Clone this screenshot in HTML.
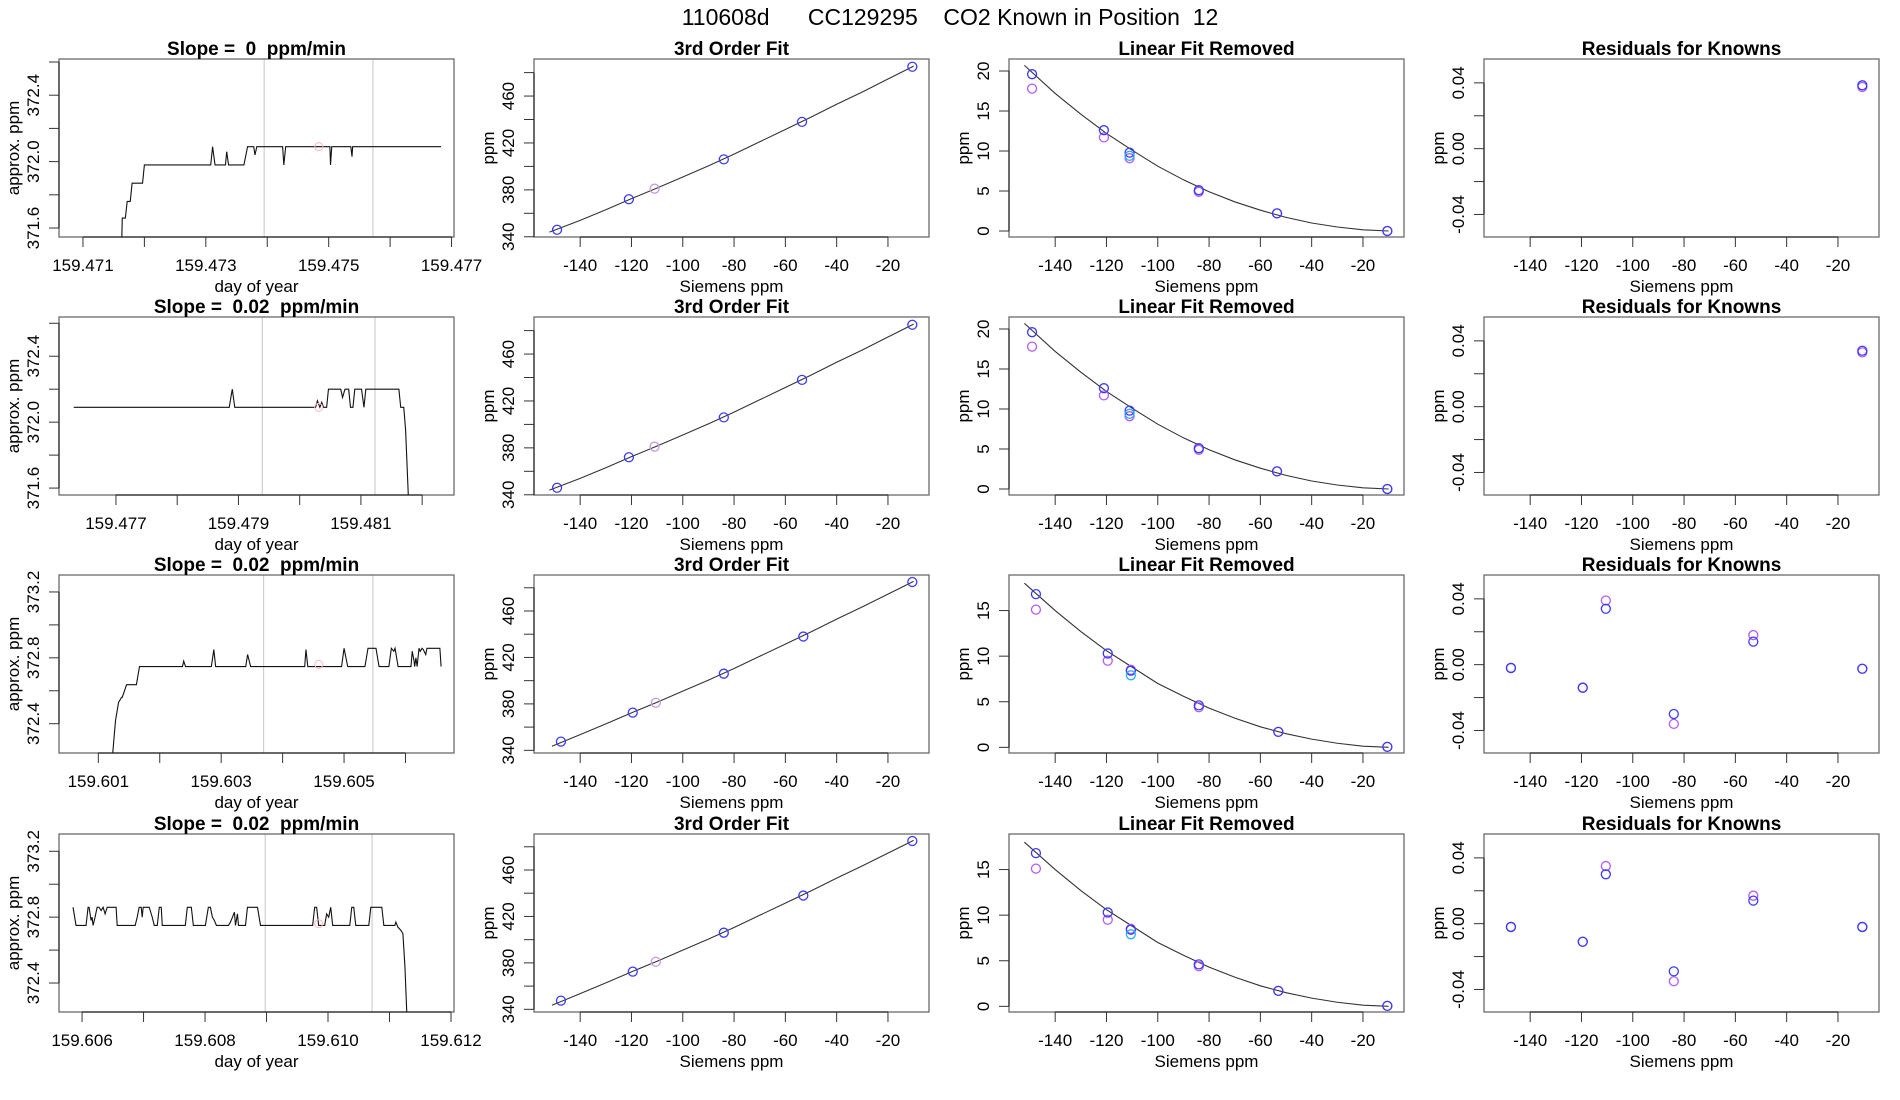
<!DOCTYPE html>
<html><head><meta charset="utf-8"><title>110608d CC129295 CO2 Known in Position 12</title>
<style>
html,body{margin:0;padding:0;background:#fff;}
svg{display:block;font-family:"Liberation Sans",sans-serif;}
svg text{white-space:pre;}
</style></head>
<body>
<svg id="fig" width="1900" height="1100" viewBox="0 0 1900 1100" xmlns="http://www.w3.org/2000/svg" xml:space="preserve">
<rect x="0" y="0" width="1900" height="1100" fill="#fff"/>
<text x="950" y="25" font-size="23" text-anchor="middle">110608d      CC129295    CO2 Known in Position  12</text>
</svg>
<script>
// ---------- time-series data (times as offsets in 1e-6 day from each row's base) ----------
const tsBase = [159.471, 159.477, 159.601, 159.606];
const tsSlopes = ["0", "0.02", "0.02", "0.02"];
const r1T = [630,640,690,720,770,800,970,1000,2080,2110,2150,2320,2340,2370,2620,2680,2780,2800,2830,3250,3270,3300,4020,4030,4050,4360,4380,4390,5830];
const r1V = [371.50,371.66,371.66,371.76,371.76,371.87,371.87,371.98,371.98,372.09,371.98,371.98,372.06,371.98,371.98,372.09,372.09,372.04,372.09,372.09,371.98,372.09,372.09,371.98,372.09,372.09,372.03,372.09,372.09];
const r2T = [-690,1850,1890,1900,1940,3260,3290,3330,3360,3390,3440,3470,3670,3700,3740,3770,3800,3830,3870,3900,4010,4050,4080,4620,4650,4700,4730,4780];
const r2V = [372.09,372.09,372.18,372.2,372.09,372.09,372.13,372.09,372.12,372.09,372.09,372.2,372.2,372.15,372.2,372.2,372.2,372.09,372.09,372.2,372.2,372.09,372.2,372.2,372.09,372.09,371.95,371.5];
const r3T = [230,280,330,380,390,460,620,670,1370,1390,1420,1840,1880,1910,2400,2430,2480,3360,3380,3410,3960,4000,4060,4340,4390,4520,4570,4730,4770,4810,4830,4880,5090,5110,5140,5150,5170,5190,5220,5240,5270,5290,5330,5350,5560,5580];
const r3V = [372.2,372.42,372.53,372.56,372.56,372.637,372.637,372.747,372.747,372.78,372.747,372.747,372.85,372.747,372.747,372.82,372.747,372.747,372.85,372.747,372.747,372.858,372.747,372.747,372.858,372.858,372.747,372.747,372.858,372.84,372.858,372.747,372.747,372.84,372.78,372.747,372.8,372.747,372.858,372.84,372.858,372.85,372.82,372.858,372.858,372.747];
const r4T = [-147,-98,65,98,114,147,163,179,212,245,277,310,342,375,408,554,571,864,897,929,962,978,994,1092,1141,1174,1223,1256,1288,1304,1679,1712,1777,1810,2006,2054,2087,2120,2152,2185,2381,2413,2446,2478,2495,2527,2544,2658,2690,2853,2902,3750,3783,3815,3848,3946,3978,4011,4044,4076,4354,4386,4419,4451,4663,4696,4875,4908,5087,5104,5136,5185,5218,5251,5283];
const r4V = [372.86,372.75,372.75,372.86,372.86,372.78,372.80,372.75,372.80,372.86,
372.86,372.84,372.86,372.82,372.86,372.86,372.75,372.75,372.80,372.86,
372.86,372.80,372.86,372.86,372.80,372.75,372.75,372.86,372.86,372.75,
372.75,372.86,372.86,372.75,372.75,372.86,372.86,372.80,372.78,372.75,
372.75,372.77,372.80,372.83,372.75,372.82,372.75,372.75,372.86,372.86,
372.75,372.75,372.86,372.86,372.75,372.75,372.82,372.80,372.86,372.75,
372.75,372.86,372.86,372.75,372.75,372.86,372.86,372.75,372.75,372.77,
372.74,372.72,372.70,372.50,372.20];
const tsXDomain = [[-390,6040],[-930,5520],[-640,5790],[-375,6049]];
const tsYDomain = [[371.546,372.618],[371.558,372.638],[372.222,373.303],[372.224,373.305]];
const tsXTicks = [[0,1000,2000,3000,4000,5000,6000],[0,1000,2000,3000,4000,5000],[0,1000,2000,3000,4000,5000],[0,1000,2000,3000,4000,5000,6000]];
const tsGray = [[2950,4720],[2390,4230],[2690,4470],[2979,4717]];
const tsPink = [[3840,372.09],[3310,372.09],[3590,372.76],[3848,372.76]];
const tsYTicksLow = [371.6,371.8,372.0,372.2,372.4,372.6];
const tsYTicksHigh = [372.4,372.6,372.8,373.0,373.2];

// ---------- calibration data ----------
const sxRowA = [-149,-121,-111,-84,-53.5,-10.5];
const sxRowB = [-147.5,-119.5,-110.5,-84,-53,-10.5];
const fitX = [-152,-140,-130,-120,-110,-100,-90,-80,-70,-60,-50,-40,-30,-20,-10];
const cubicA = [344,354,363,372.5,381.6,391,400.5,410.5,421,431.5,442,453,463.5,474.5,485.5];
const cubicB = [343.5,353.5,362.8,372.3,381.4,391,400.5,410.5,421,431.5,442,453,463.5,474.5,485.5];
const ptsA = [346,372,381,406,438,485];
const ptsB = [347.5,372.5,381,406,438,485];
const linFitA = [20.7,17.2,14.6,12.2,10.1,8.1,6.4,4.9,3.65,2.6,1.7,1.0,0.5,0.15,0.0];
const linFitB = [18.0,15.0,12.7,10.6,8.8,7.0,5.6,4.3,3.2,2.25,1.5,0.9,0.45,0.13,0.0];
const linBlueA = [19.6,12.6,9.8,5.1,2.2,0.0];
const linPurpA = [17.8,11.7,9.1,4.9,2.2,0.0];
const linBlueB = [16.8,10.3,8.4,4.6,1.7,0.05];
const linPurpB = [15.1,9.5,8.5,4.4,1.7,0.05];
const linCyanA = 9.4, linCyanB = 7.9;
const resBlue = [[null,null,null,null,null,0.0385],[null,null,null,null,null,0.034],[-0.002,-0.014,0.034,-0.030,0.014,-0.0025],[-0.002,-0.011,0.030,-0.029,0.014,-0.002]];
const resPurp = [[null,null,null,null,null,0.0375],[null,null,null,null,null,0.033],[-0.002,-0.014,0.039,-0.036,0.018,-0.0025],[-0.002,-0.011,0.035,-0.035,0.017,-0.002]];
const calXTicks = [-140,-120,-100,-80,-60,-40,-20];
const calXDomain = [-158,-4];

const NS = "http://www.w3.org/2000/svg";
const svg = document.getElementById("fig");
const ROWTOP = [59,317,575,834];
const BOXW = 395, BOXH = 178;

function el(tag, attrs, parent, text) {
  const e = document.createElementNS(NS, tag);
  for (const k in attrs) e.setAttribute(k, attrs[k]);
  if (text !== undefined) e.textContent = text;
  (parent || svg).appendChild(e);
  return e;
}

function panel(col, row, o) {
  const L = col * 475 + 59, T = ROWTOP[row], R = L + BOXW, B = T + BOXH;
  const g = el("g", {});
  
  
  const sx = v => L + (v - o.xd[0]) / (o.xd[1] - o.xd[0]) * BOXW;
  const sy = v => B - (v - o.yd[0]) / (o.yd[1] - o.yd[0]) * BOXH;
  const clipId = "clip" + col + "_" + row;
  const cp = el("clipPath", {id: clipId}, g);
  el("rect", {x: L, y: T, width: BOXW, height: BOXH}, cp);
  const plot = el("g", {"clip-path": "url(#" + clipId + ")"}, g);
  
  
  const box = el("rect", {x: L, y: T, width: BOXW, height: BOXH, fill: "none", stroke: "#6a6a6a", "stroke-width": 1.3}, g);
  
  
  const xa = el("g", {}, g);
  
  
  el("line", {x1: sx(o.xt[0]), x2: sx(o.xt[o.xt.length - 1]), y1: B, y2: B, stroke: "#000", "stroke-width": 1}, xa);
  o.xt.forEach((t, i) => {
    el("line", {x1: sx(t), x2: sx(t), y1: B, y2: B + 10, stroke: "#333", "stroke-width": 1}, xa);
    const lab = o.xl[i];
    if (lab !== null) {
      const tx = el("text", {x: sx(t), y: B + 34, "font-size": 17, "text-anchor": "middle"}, xa, lab);
      
      
    }
  });
  const xt = el("text", {x: (L + R) / 2, y: B + 55, "font-size": 17, "text-anchor": "middle"}, g, o.xlab);
  
  
  const ya = el("g", {}, g);
  
  
  el("line", {x1: L, x2: L, y1: sy(o.yt[0]), y2: sy(o.yt[o.yt.length - 1]), stroke: "#000", "stroke-width": 1}, ya);
  o.yt.forEach((t, i) => {
    el("line", {x1: L - 10, x2: L, y1: sy(t), y2: sy(t), stroke: "#333", "stroke-width": 1}, ya);
    const lab = o.yl[i];
    if (lab !== null) {
      const x = L - 20, y = sy(t);
      const tx = el("text", {x: x, y: y, "font-size": 17, "text-anchor": "middle", transform: "rotate(-90," + x + "," + y + ")"}, ya, lab);
      
      
    }
  });
  const yx = L - 40, yy = (T + B) / 2;
  const yt = el("text", {x: yx, y: yy, "font-size": 17, "text-anchor": "middle", transform: "rotate(-90," + yx + "," + yy + ")"}, g, o.ylab);
  
  
  const tt = el("text", {x: (L + R) / 2, y: T - 4, "font-size": 19, "font-weight": "bold", "text-anchor": "middle"}, g, o.title);
  
  
  return {sx, sy, plot};
}

function circle(p, x, y, color, name) {
  const c = el("circle", {cx: p.sx(x), cy: p.sy(y), r: 4.5, fill: "none", stroke: color, "stroke-width": 1.3}, p.plot);
  
  
  return c;
}
function polyline(p, xs, ys, color, name) {
  const pts = xs.map((x, i) => p.sx(x).toFixed(2) + "," + p.sy(ys[i]).toFixed(2)).join(" ");
  const l = el("polyline", {points: pts, fill: "none", stroke: color, "stroke-width": 1.1}, p.plot);
  
  
  return l;
}

const tsT = [r1T, r2T, r3T, r4T];
const tsV = [r1V, r2V, r3V, r4V];
const fmtT = (b, off) => (b + off / 1e6).toFixed(3);

for (let r = 0; r < 4; r++) {
  const yt = r < 2 ? tsYTicksLow : tsYTicksHigh;
  const yl = yt.map(v => (Math.round(v * 10) % 4 === 0 ? v.toFixed(1) : null));
  const xt = tsXTicks[r];
  const xl = xt.map((t, i) => (i % 2 === 0 ? fmtT(tsBase[r], t) : null));
  const p = panel(0, r, {name: "time-series-panel-row" + (r + 1), xd: tsXDomain[r], yd: tsYDomain[r], xt, xl, yt, yl,
    title: "Slope =  " + tsSlopes[r] + "  ppm/min", xlab: "day of year", ylab: "approx. ppm"});
  tsGray[r].forEach(g => {
    const ln = el("line", {x1: p.sx(g), x2: p.sx(g), y1: ROWTOP[r], y2: ROWTOP[r] + BOXH, stroke: "#cfcfcf", "stroke-width": 1.2}, p.plot);
    
    
  });
  polyline(p, tsT[r], tsV[r], "#111", "co2-trace");
  const pk = el("circle", {cx: p.sx(tsPink[r][0]), cy: p.sy(tsPink[r][1]), r: 4, fill: "none", stroke: "#ffb6c1", "stroke-width": 1}, p.plot);
  
  

  const A = r < 2;
  const sxs = A ? sxRowA : sxRowB;
  const calXL = calXTicks.map(String);
  const p2 = panel(1, r, {name: "cubic-fit-panel-row" + (r + 1), xd: calXDomain, yd: A ? [339.8, 491.6] : [337.7, 491],
    xt: calXTicks, xl: calXL, yt: [340,360,380,400,420,440,460,480], yl: ["340",null,"380",null,"420",null,"460",null],
    title: "3rd Order Fit", xlab: "Siemens ppm", ylab: "ppm"});
  polyline(p2, A ? fitX : fitX.map((x, i) => i === 0 ? -151 : x), A ? cubicA : cubicB, "#333", "cubic-fit-line");
  (A ? ptsA : ptsB).forEach((v, i) => circle(p2, sxs[i], v, i === 2 ? "#c49be0" : "#3a3aff", "known-point"));

  const p3 = panel(2, r, {name: "linear-removed-panel-row" + (r + 1), xd: calXDomain, yd: A ? [-0.75, 21.5] : [-0.62, 18.9],
    xt: calXTicks, xl: calXL, yt: A ? [0,5,10,15,20] : [0,5,10,15], yl: A ? ["0","5","10","15","20"] : ["0","5","10","15"],
    title: "Linear Fit Removed", xlab: "Siemens ppm", ylab: "ppm"});
  polyline(p3, fitX, A ? linFitA : linFitB, "#333", "quadratic-curve");
  (A ? linPurpA : linPurpB).forEach((v, i) => circle(p3, sxs[i], v, "#b45cf5", "purple-point"));
  (A ? linBlueA : linBlueB).forEach((v, i) => circle(p3, sxs[i], v, "#3a3aff", "blue-point"));
  circle(p3, sxs[2], A ? linCyanA : linCyanB, "#22b0ff", "cyan-point");

  const p4 = panel(3, r, {name: "residuals-panel-row" + (r + 1), xd: calXDomain, yd: [-0.0537, 0.0545],
    xt: calXTicks, xl: calXL, yt: [-0.04,-0.02,0,0.02,0.04], yl: ["-0.04",null,"0.00",null,"0.04"],
    title: "Residuals for Knowns", xlab: "Siemens ppm", ylab: "ppm"});
  resPurp[r].forEach((v, i) => { if (v !== null) circle(p4, sxs[i], v, "#b45cf5", "residual-purple"); });
  resBlue[r].forEach((v, i) => { if (v !== null) circle(p4, sxs[i], v, "#3a3aff", "residual-blue"); });
}
</script>
</body></html>
